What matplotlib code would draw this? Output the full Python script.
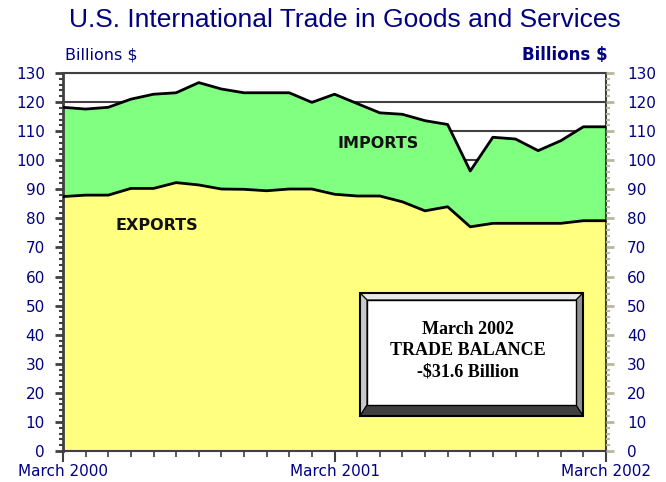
import matplotlib.pyplot as plt
from matplotlib.patches import Polygon, Rectangle
from matplotlib.ticker import MultipleLocator, FixedLocator

# monthly values, March 2000 .. March 2002 (billions $)
months = ['March 2000'] + [''] * 11 + ['March 2001'] + [''] * 11 + ['March 2002']
imports = [118.2, 117.6, 118.2, 121.0, 122.7, 123.2, 126.7, 124.5, 123.2, 123.2,
           123.2, 119.9, 122.7, 119.5, 116.3, 115.8, 113.6, 112.3, 96.3, 107.9,
           107.3, 103.3, 106.7, 111.5, 111.5]
exports = [87.5, 88.0, 88.0, 90.3, 90.3, 92.3, 91.5, 90.1, 90.0, 89.5,
           90.1, 90.1, 88.3, 87.7, 87.7, 85.7, 82.6, 84.0, 77.1, 78.3,
           78.3, 78.3, 78.3, 79.2, 79.2]
box_lines = ['March 2002', 'TRADE BALANCE', '-$31.6 Billion']

navy = '#000080'
W, H = 666, 482
fig = plt.figure(figsize=(W / 100, H / 100), dpi=100)
ax = fig.add_axes([63 / W, 1 - 451 / H, (606 - 63) / W, (451 - 73) / H])

x = list(range(len(months)))
ax.fill_between(x, 0, exports, color='#ffff80', zorder=2, lw=0)
ax.fill_between(x, exports, imports, color='#80ff80', zorder=2, lw=0)
ax.plot(x, imports, color='black', lw=2, zorder=3)
ax.plot(x, exports, color='black', lw=2, zorder=3)

ax.set_xlim(0, 24)
ax.set_ylim(0, 130)
ax.yaxis.set_major_locator(MultipleLocator(10))
ax.yaxis.set_minor_locator(MultipleLocator(2))
ax.grid(axis='y', color='#404040', lw=1.5, zorder=1)
ax.set_axisbelow(True)

ax.xaxis.set_major_locator(FixedLocator([0, 12, 24]))
ax.xaxis.set_minor_locator(FixedLocator(x))
ax.set_xticklabels([months[0], months[12], months[24]])

for s in ['left', 'bottom', 'right', 'top']:
    ax.spines[s].set_color('#404040')
ax.spines['left'].set_linewidth(2)
ax.spines['bottom'].set_linewidth(1.5)
ax.spines['right'].set_linewidth(1.5)
ax.spines['top'].set_linewidth(1.5)

ax.tick_params(axis='y', which='major', length=6, width=2, color='#404040',
               labelsize=11, labelcolor=navy, pad=7)
ax.tick_params(axis='y', which='minor', length=3, width=1.5, color='#404040')
ax.tick_params(axis='x', which='major', length=8, width=1.5, color='#404040',
               labelsize=11, labelcolor=navy, pad=1)
ax.tick_params(axis='x', which='minor', length=4, width=1.2, color='#404040')

ax2 = ax.twinx()
ax2.set_ylim(0, 130)
ax2.yaxis.set_major_locator(MultipleLocator(10))
ax2.yaxis.set_minor_locator(MultipleLocator(2))
ax2.tick_params(axis='y', which='major', length=6, width=2, color='#b8b898',
                labelsize=11, labelcolor=navy, pad=9)
ax2.tick_params(axis='y', which='minor', length=3, width=1.5, color='#b8b898')
for s in ax2.spines.values():
    s.set_visible(False)


def fx(px):
    return px / W


def fy(py):
    return 1 - py / H


fig.text(fx(345), fy(20), 'U.S. International Trade in Goods and Services',
         ha='center', va='center', fontsize=19, color=navy, family='Liberation Sans')
fig.text(fx(65), fy(55), 'Billions $', ha='left', va='center', fontsize=11.5, color=navy)
fig.text(fx(608), fy(55), 'Billions $', ha='right', va='center', fontsize=12,
         color=navy, weight='bold')
fig.text(fx(157), fy(226), 'EXPORTS', ha='center', va='center', fontsize=11.5,
         weight='bold', color='#111111')
fig.text(fx(378), fy(144), 'IMPORTS', ha='center', va='center', fontsize=11.5,
         weight='bold', color='#111111')

# bevelled text box
x0, x1, y0, y1 = 360, 583, 293, 416
xi0, xi1, yi0, yi1 = 367, 576, 300, 405


def poly(pts, color):
    fig.patches.append(Polygon([(fx(a), fy(b)) for a, b in pts], closed=True,
                               transform=fig.transFigure, facecolor=color,
                               edgecolor='black', lw=0.8, zorder=5))


poly([(x0, y0), (x1, y0), (xi1, yi0), (xi0, yi0)], '#e8e8e8')
poly([(x0, y0), (xi0, yi0), (xi0, yi1), (x0, y1)], '#c8c8c8')
poly([(x1, y0), (x1, y1), (xi1, yi1), (xi1, yi0)], '#909090')
poly([(x0, y1), (xi0, yi1), (xi1, yi1), (x1, y1)], '#404040')
fig.patches.append(Rectangle((fx(xi0), fy(yi1)), fx(xi1) - fx(xi0), fy(yi0) - fy(yi1),
                             transform=fig.transFigure, facecolor='white',
                             edgecolor='black', lw=1, zorder=5))
fig.patches.append(Rectangle((fx(x0), fy(y1)), fx(x1) - fx(x0), fy(y0) - fy(y1),
                             transform=fig.transFigure, facecolor='none',
                             edgecolor='black', lw=1.5, zorder=6))
for i, line in enumerate(box_lines):
    fig.text(fx(468), fy(329 + 21.5 * i), line, ha='center', va='center',
             fontsize=13, weight='bold', family='Liberation Serif', zorder=7)

fig.savefig('out.png', dpi=100)
